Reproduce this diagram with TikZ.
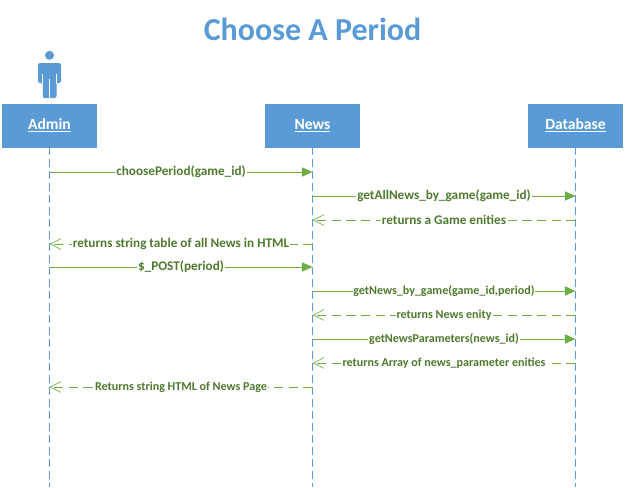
\documentclass[tikz,border=0pt]{standalone}
\usepackage{fontspec}
\setmainfont{Carlito}
\usetikzlibrary{arrows.meta}
\definecolor{boxblue}{HTML}{5B9BD5}
\definecolor{msgline}{HTML}{70AD47}
\definecolor{msgtext}{HTML}{4E7A2E}
\tikzset{
	head/.style={draw=none,fill=boxblue,text=white,minimum width=71.5pt,minimum height=33pt,inner sep=0pt,font=\fontsize{11.7}{13}\selectfont\bfseries},
	lifeline/.style={boxblue,dash pattern=on 6pt off 3pt,line width=0.6pt},
	call/.style={msgline,line width=0.7pt,-{Triangle[length=8pt,width=7pt,fill=msgline]}},
	reply/.style={msgline,line width=0.7pt,dash pattern=on 7pt off 4pt,-{Straight Barb[length=8pt,width=8pt,line width=0.5pt,sharp]}},
	msg/.style={fill=white,text=msgtext,inner xsep=0.6pt,inner ysep=0.5pt,font=\fontsize{9.9}{11}\selectfont\bfseries},
	msgsmall/.style={msg,font=\fontsize{9.05}{11}\selectfont\bfseries},
}
\begin{document}
\begin{tikzpicture}[x=0.75pt,y=0.75pt]
	\useasboundingbox (0,0) rectangle (625,-487);
	\node[text=boxblue,font=\fontsize{24}{28}\selectfont\bfseries] (title) at (312.5,-29) {Choose A Period};
	% actor
	\fill[boxblue] (49.5,-55.3) circle (4.5);
	\fill[boxblue,rounded corners=1.5pt] (38,-83) -- (38,-63) -- (61,-63) -- (61,-83) -- (56.5,-83) -- (56.5,-98) -- (42.8,-98) -- (42.8,-83) -- cycle;
	\draw[white,line width=0.5pt] (49.5,-79) -- (49.5,-98);
	\draw[white,line width=0.5pt] (42.6,-74) -- (42.6,-84);
	\draw[white,line width=0.5pt] (56.7,-74) -- (56.7,-84);
	% heads
	\node[head] (admin) at (49.5,-125.5) {\underline{Admin}};
	\node[head] (news) at (312.5,-125.5) {\underline{News}};
	\node[head] (database) at (575.5,-125.5) {\underline{Database}};
	\coordinate (adminend) at (49.5,-487);
	\coordinate (newsend) at (312.5,-487);
	\coordinate (databaseend) at (575.5,-487);
	\foreach \n in {admin,news,database}{
		\draw[lifeline] (\n) ++(0,-21.5) -- (\n end);
	}
	% rows
	\foreach \r/\y in {1/172,2/196,3/220,4/244,5/267,6/291,7/315,8/339,9/363,10/387}{
		\coordinate (admin\r) at (49.5,-\y);
		\coordinate (news\r) at (312.5,-\y);
		\coordinate (database\r) at (575.5,-\y);
	}
	% messages
	\foreach \a/\b/\s/\f/\t in {
		admin1/news1/call/msg/choosePeriod(game\_id),
		news2/database2/call/msg/getAllNews\_by\_game(game\_id),
		database3/news3/reply/msg/returns a Game enities,
		news4/admin4/reply/msg/returns string table of all News in HTML,
		admin5/news5/call/msg/\$\_POST(period),
		news6/database6/call/msgsmall/{getNews\_by\_game(game\_id,period)},
		database7/news7/reply/msgsmall/returns News enity,
		news8/database8/call/msgsmall/getNewsParameters(news\_id),
		database9/news9/reply/msgsmall/returns Array of news\_parameter enities,
		news10/admin10/reply/msgsmall/Returns string HTML of News Page}{
		\draw[\s] (\a) -- (\b) node[midway,\f] (label\a) {\t};
	}
\end{tikzpicture}
\end{document}
